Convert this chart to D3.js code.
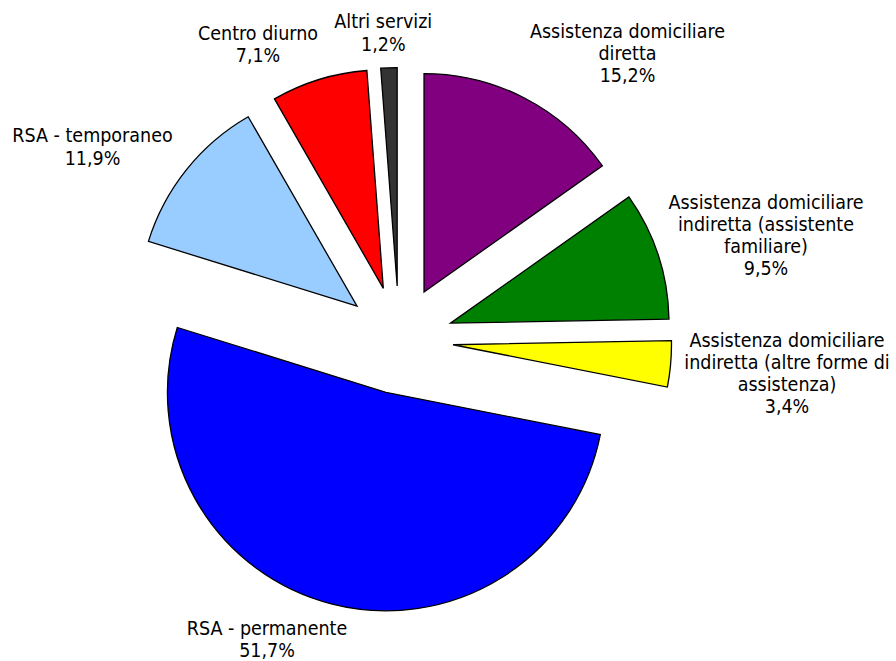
<!DOCTYPE html>
<html>
<head>
<meta charset="utf-8">
<script src="https://cdn.jsdelivr.net/npm/d3@7"></script>
<style>
  html, body { margin: 0; padding: 0; background: #fff; }
  svg text { font-family: "DejaVu Sans", Verdana, sans-serif; font-stretch: condensed; fill: #000; }
</style>
</head>
<body>
<svg id="chart" width="896" height="661"></svg>
<script>
// Services used, share of total (%)
const categories = [
  "Assistenza domiciliare diretta",
  "Assistenza domiciliare indiretta (assistente familiare)",
  "Assistenza domiciliare indiretta (altre forme di assistenza)",
  "RSA - permanente",
  "RSA - temporaneo",
  "Centro diurno",
  "Altri servizi"
];
const values = [15.2, 9.5, 3.4, 51.7, 11.9, 7.1, 1.2];

// Label text, split into lines as printed
const labelLines = [
  ["Assistenza domiciliare", "diretta"],
  ["Assistenza domiciliare", "indiretta (assistente", "familiare)"],
  ["Assistenza domiciliare", "indiretta (altre forme di", "assistenza)"],
  ["RSA - permanente"],
  ["RSA - temporaneo"],
  ["Centro diurno"],
  ["Altri servizi"]
];

const colors = ["#800080", "#008000", "#FFFF00", "#0000FF", "#99CCFF", "#FF0000", "#333333"];

// Layout
const cx = 399.2, cy = 340, radius = 218.5, explode = 54;
const fontSize = 19.5, lineHeight = 22.3;
// label block anchors: [centre x, first baseline y]
const labelAnchors = [
  [627.5, 37.7],
  [766, 208.5],
  [787, 346.5],
  [267, 635],
  [92.5, 142.3],
  [258, 40],
  [383.3, 28.3]
];

const fmt = v => d3.format(".1f")(v).replace(".", ",") + "%";

const svg = d3.select("#chart");
const pie = d3.pie().sort(null).value(d => d.value).startAngle(0).endAngle(2 * Math.PI);
const arc = d3.arc().innerRadius(0).outerRadius(radius);

const data = categories.map((c, i) => ({ name: c, value: values[i], i }));
const arcs = pie(data);

const g = svg.append("g").attr("transform", `translate(${cx},${cy})`);

g.selectAll("path.slice")
  .data(arcs)
  .join("path")
  .attr("class", "slice")
  .attr("d", arc)
  .attr("transform", d => {
    const mid = (d.startAngle + d.endAngle) / 2;
    return `translate(${Math.sin(mid) * explode},${-Math.cos(mid) * explode})`;
  })
  .attr("fill", d => colors[d.data.i])
  .attr("stroke", "#000")
  .attr("stroke-width", 1.3)
  .attr("stroke-linejoin", "miter");

const labels = svg.selectAll("text.lbl")
  .data(arcs)
  .join("text")
  .attr("class", "lbl")
  .attr("text-anchor", "middle")
  .attr("font-size", fontSize)
  .attr("x", d => labelAnchors[d.data.i][0])
  .attr("y", d => labelAnchors[d.data.i][1]);

labels.each(function(d) {
  const lines = labelLines[d.data.i].concat([fmt(d.data.value)]);
  const [x] = labelAnchors[d.data.i];
  d3.select(this).selectAll("tspan")
    .data(lines)
    .join("tspan")
    .attr("x", x)
    .attr("dy", (l, k) => k === 0 ? 0 : lineHeight)
    .text(l => l);
});
</script>
</body>
</html>
